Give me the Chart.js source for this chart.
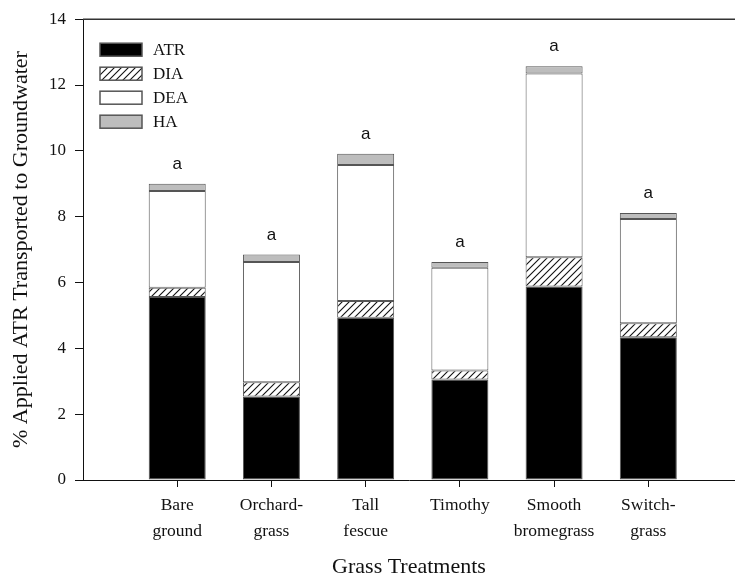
<!DOCTYPE html>
<html>
<head>
<meta charset="utf-8">
<script src="https://cdn.jsdelivr.net/npm/chart.js@4.4.1/dist/chart.umd.min.js"></script>
<style>
  html, body { margin: 0; padding: 0; background: #fff; overflow: hidden; }
</style>
</head>
<body>
<canvas id="chart" width="735" height="580"></canvas>
<script>
// |-----------|
// |   Data    |
// |-----------|

const categories = [['Bare', 'ground'], ['Orchard-', 'grass'], ['Tall', 'fescue'], ['Timothy'], ['Smooth', 'bromegrass'], ['Switch-', 'grass']]
const xPositions = [1, 2, 3, 4, 5, 6]
const atr = [5.56, 2.54, 4.93, 3.05, 5.88, 4.34]
const dia = [0.28, 0.43, 0.51, 0.28, 0.89, 0.42]
const dea = [2.94, 3.65, 4.13, 3.12, 5.58, 3.17]
const ha = [0.22, 0.23, 0.34, 0.17, 0.22, 0.18]
const letters = ['a', 'a', 'a', 'a', 'a', 'a']
const yTicks = [0, 2, 4, 6, 8, 10, 12, 14]

const SERIF = '"Liberation Serif", "Times New Roman", serif'
Chart.defaults.font.family = SERIF
Chart.defaults.font.size = 17
Chart.defaults.color = '#111'

// Hachures pour DIA
function make_hatch() {
	const c = document.createElement('canvas')
	c.width = 7
	c.height = 7
	const g = c.getContext('2d')
	g.fillStyle = '#fff'
	g.fillRect(0, 0, 7, 7)
	g.strokeStyle = '#111'
	g.lineWidth = 1.1
	g.beginPath()
	g.moveTo(0, 7); g.lineTo(7, 0)
	g.moveTo(-1, 1); g.lineTo(1, -1)
	g.moveTo(6, 8); g.lineTo(8, 6)
	g.stroke()
	return g.createPattern(c, 'repeat')
}
const hatch = make_hatch()

function points(values) {
	return values.map((v, i) => ({ x: xPositions[i], y: v }))
}

const series = [
	{ label: 'ATR', values: atr, fill: '#000000' },
	{ label: 'DIA', values: dia, fill: hatch },
	{ label: 'DEA', values: dea, fill: '#ffffff' },
	{ label: 'HA', values: ha, fill: '#bdbdbd' },
]

const datasets = series.map(s => ({
	label: s.label,
	data: points(s.values),
	backgroundColor: s.fill,
	borderColor: '#555',
	borderWidth: 1,
	borderSkipped: false,
	categoryPercentage: 1,
	barPercentage: 0.605,
}))

// Légende dans la zone du graphique
const legendPlugin = {
	id: 'boxLegend',
	afterDraw(chart) {
		const ctx = chart.ctx
		const area = chart.chartArea
		ctx.save()
		chart.data.datasets.forEach((ds, i) => {
			const x = area.left + 17
			const y = area.top + 24 + i * 24
			ctx.fillStyle = ds.backgroundColor
			ctx.fillRect(x, y, 42, 13)
			ctx.strokeStyle = '#555'
			ctx.lineWidth = 1.5
			ctx.strokeRect(x, y, 42, 13)
			ctx.fillStyle = '#111'
			ctx.font = '17px ' + SERIF
			ctx.textBaseline = 'middle'
			ctx.fillText(ds.label, x + 53, y + 7)
		})
		ctx.restore()
	}
}

// Lettres de significativité + ligne du haut
const lettersPlugin = {
	id: 'letters',
	afterDatasetsDraw(chart) {
		const ctx = chart.ctx
		const last = chart.getDatasetMeta(chart.data.datasets.length - 1)
		ctx.save()
		ctx.font = '17px "Liberation Sans", Arial, sans-serif'
		ctx.fillStyle = '#111'
		ctx.textAlign = 'center'
		ctx.textBaseline = 'alphabetic'
		last.data.forEach((bar, i) => {
			ctx.fillText(letters[i], bar.x, bar.y - 15)
		})
		// ligne supérieure
		const yTop = chart.scales.y.getPixelForValue(14)
		ctx.strokeStyle = '#333'
		ctx.lineWidth = 1.5
		ctx.beginPath()
		ctx.moveTo(chart.chartArea.left, yTop)
		ctx.lineTo(chart.chartArea.right, yTop)
		ctx.stroke()
		ctx.restore()
	}
}

const config = {
	type: 'bar',
	data: { datasets: datasets },
	options: {
		responsive: false,
		animation: false,
		layout: { padding: { top: 17, right: 0, left: 0, bottom: 0 } },
		plugins: {
			legend: { display: false },
			tooltip: { enabled: false },
		},
		scales: {
			x: {
				type: 'linear',
				stacked: true,
				offset: false,
				min: 0,
				max: 6.92,
				afterBuildTicks: (axis) => {
					axis.ticks = xPositions.map(v => ({ value: v }))
				},
				afterFit: (axis) => { axis.height = 100 },
				ticks: {
					autoSkip: false,
					maxRotation: 0,
					padding: 6,
					font: { family: SERIF, size: 17.5, lineHeight: 1.45 },
					callback: (value) => categories[value - 1] || '',
				},
				grid: { drawOnChartArea: false, offset: false, tickLength: 7, color: '#111' },
				border: { color: '#111', width: 1 },
				title: {
					display: true,
					text: 'Grass Treatments',
					font: { family: SERIF, size: 22 },
					padding: { top: 0, bottom: 0 },
				},
			},
			y: {
				stacked: true,
				min: 0,
				max: 14,
				afterBuildTicks: (axis) => {
					axis.ticks = yTicks.map(v => ({ value: v }))
				},
				afterFit: (axis) => { axis.width = 83 },
				ticks: { padding: 9, font: { family: SERIF, size: 17 } },
				grid: { drawOnChartArea: false, tickLength: 8, color: '#111' },
				border: { color: '#111', width: 1 },
				title: {
					display: true,
					text: '% Applied ATR Transported to Groundwater',
					font: { family: SERIF, size: 22 },
					padding: { top: 8, bottom: 0 },
				},
			},
		},
	},
	plugins: [lettersPlugin, legendPlugin],
}

new Chart(document.getElementById('chart'), config)
</script>
</body>
</html>
